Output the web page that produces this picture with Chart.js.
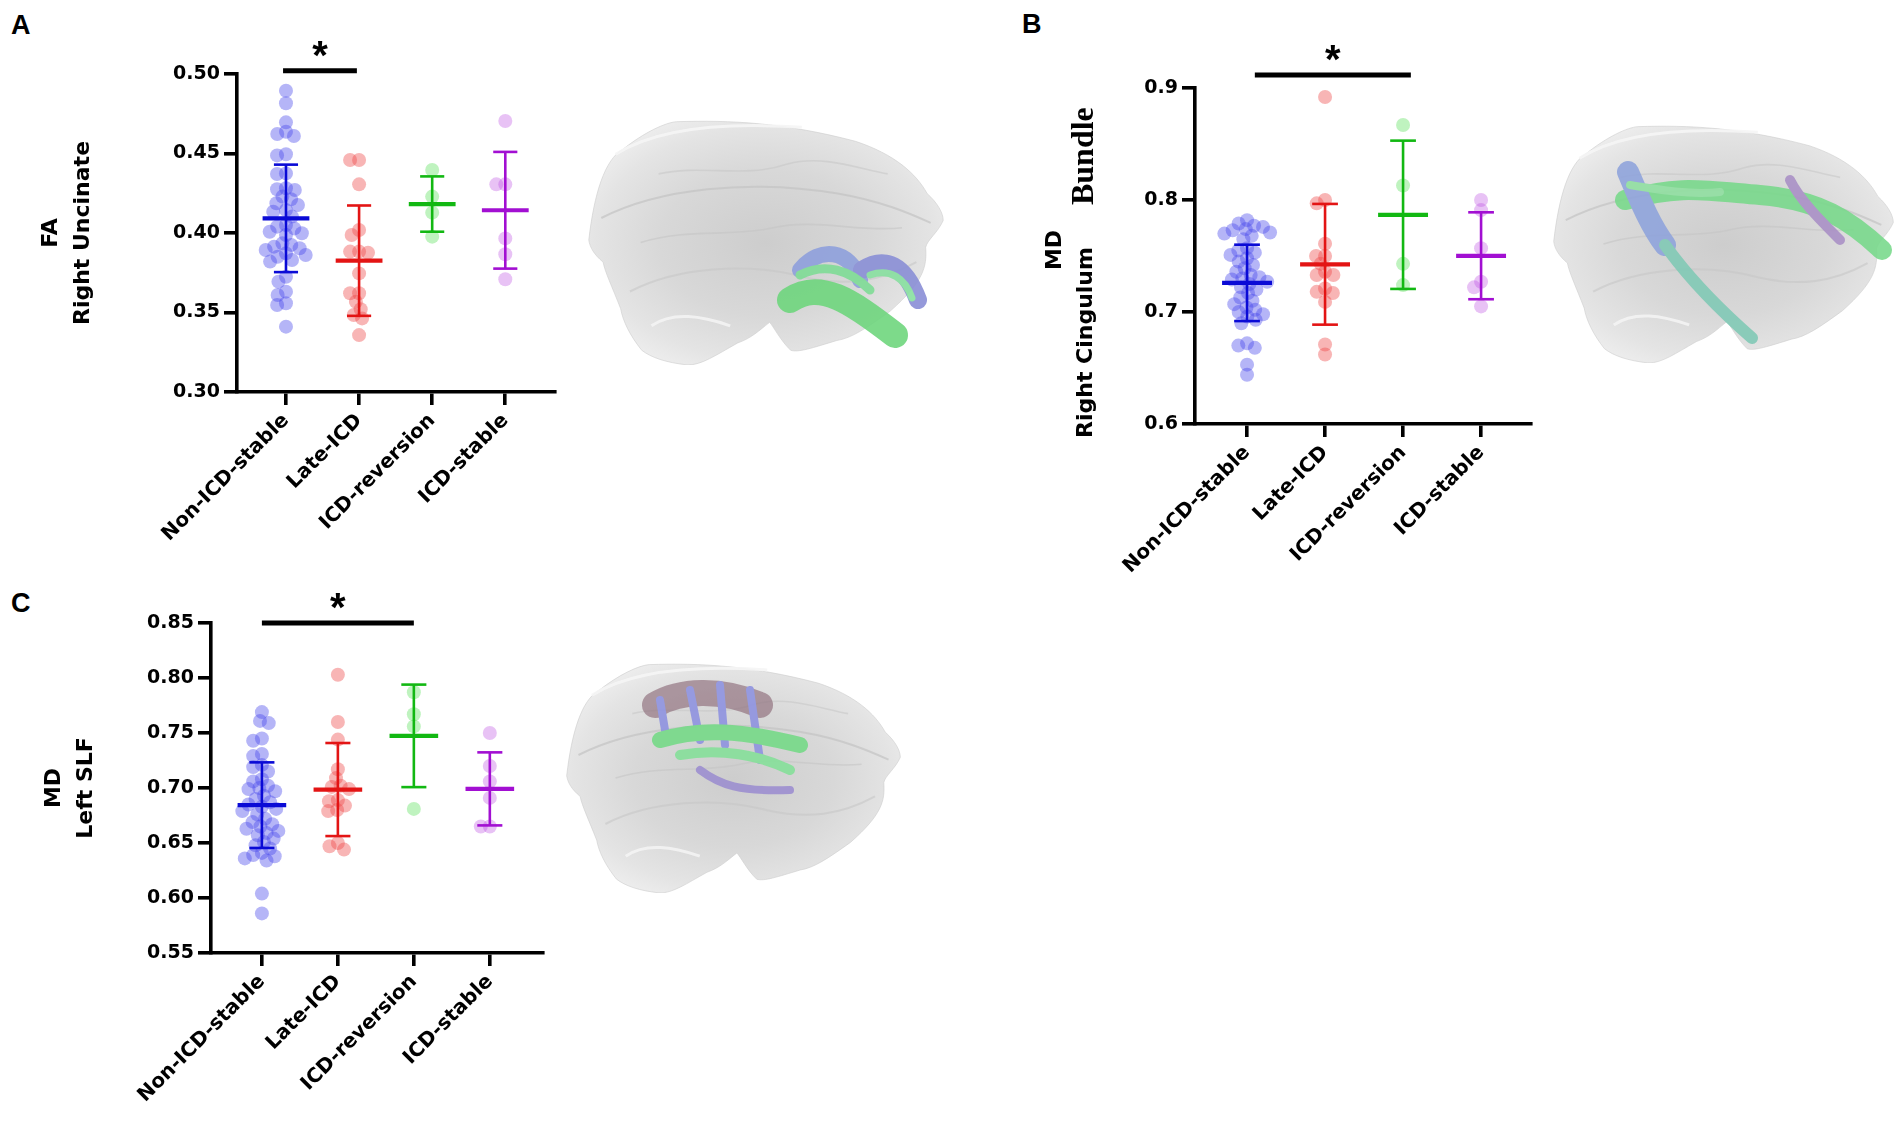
<!DOCTYPE html>
<html>
<head>
<meta charset="utf-8">
<script src="https://cdn.jsdelivr.net/npm/chart.js@4.4.1/dist/chart.umd.min.js"></script>
<style>
html,body{margin:0;padding:0;background:#fff;}
body{width:1902px;height:1124px;position:relative;overflow:hidden;font-family:"DejaVu Sans",sans-serif;}
.panel{position:absolute;}
.letter{position:absolute;font-weight:bold;font-size:27px;line-height:1;color:#000;font-family:"Liberation Sans",Arial,sans-serif;}
#deco{position:absolute;left:0;top:0;}
</style>
</head>
<body>
<svg id="deco" width="1902" height="1124" viewBox="0 0 1902 1124">
  <defs>
    <radialGradient id="bg" cx="50%" cy="50%" r="60%">
      <stop offset="0%" stop-color="#cdcdcd"/>
      <stop offset="50%" stop-color="#d8d8d8"/>
      <stop offset="80%" stop-color="#e4e4e4"/>
      <stop offset="100%" stop-color="#f0f0f0"/>
    </radialGradient>
    <symbol id="brain" viewBox="0 0 100 100" preserveAspectRatio="none">
      <path d="M0.5,49 C2,30 5,16 10,12 C16,5 22,1 25,0.7 C40,0 55,1 75,8.7 C86,14 92,22 95,30 C98,34 99.5,38 99.5,41 C98,46 95,49 94.6,52 C95,60 94,66 84.7,78 C78,85 74,89 69.8,90 C63,93 59,95 56.9,94 C54,90 52,84 51,82.6 C48,86 46,89 42.1,91 C36,96 32,100 28.2,100 C22,99 18,97 15.3,94 C12,88 10,82 9.4,77 C7,68 5,62 4.5,58 C2,55 0.8,52 0.5,49 Z"
        fill="url(#bg)" stroke="#cccccc" stroke-width="0.6" vector-effect="non-scaling-stroke"/>
      <path d="M4,40 C20,28 45,24 70,30 C82,33 90,38 96,42" fill="none" stroke="#c4c4c4" stroke-width="2" opacity="0.7" vector-effect="non-scaling-stroke"/>
      <path d="M12,70 C25,60 45,58 60,64 C72,68 82,66 92,58" fill="none" stroke="#c8c8c8" stroke-width="2" opacity="0.6" vector-effect="non-scaling-stroke"/>
      <path d="M15,50 C28,44 40,48 52,44 C64,40 76,46 88,44" fill="none" stroke="#c6c6c6" stroke-width="1.6" opacity="0.6" vector-effect="non-scaling-stroke"/>
      <path d="M20,22 C32,18 44,24 56,18 C66,14 76,20 84,22" fill="none" stroke="#c9c9c9" stroke-width="1.6" opacity="0.6" vector-effect="non-scaling-stroke"/>
      <path d="M18,84 C24,78 32,80 40,84" fill="none" stroke="#f4f4f4" stroke-width="3" opacity="0.9" vector-effect="non-scaling-stroke"/>
      <path d="M8,14 C20,3 40,1 60,3" fill="none" stroke="#f6f6f6" stroke-width="3" opacity="0.9" vector-effect="non-scaling-stroke"/>
    </symbol>
  </defs>
  <!-- brain A -->
  <use href="#brain" x="587" y="120" width="358" height="245"/>
  <g opacity="0.9" fill="none" stroke-linecap="round">
    <path d="M790,300 C820,280 850,300 895,335" stroke="#6fd67e" stroke-width="26"/>
    <path d="M800,270 C820,245 850,250 860,280" stroke="#8fa0dc" stroke-width="16"/>
    <path d="M862,270 C885,255 905,265 918,300" stroke="#8a8fd6" stroke-width="18"/>
    <path d="M800,275 C825,262 850,270 870,290" stroke="#7fdc96" stroke-width="9"/>
    <path d="M870,275 C890,268 905,278 912,298" stroke="#88e0a0" stroke-width="7"/>
  </g>
  <!-- brain B -->
  <use href="#brain" x="1552" y="125" width="343" height="238"/>
  <g opacity="0.88" fill="none" stroke-linecap="round">
    <path d="M1625,200 C1680,185 1700,190 1760,195 C1820,200 1850,220 1882,250" stroke="#77d98a" stroke-width="20"/>
    <path d="M1628,172 C1640,200 1650,225 1665,245" stroke="#8ea3dc" stroke-width="22"/>
    <path d="M1665,245 C1690,280 1720,310 1752,338" stroke="#7fc9b5" stroke-width="12"/>
    <path d="M1790,180 C1800,200 1820,220 1840,240" stroke="#a98fc6" stroke-width="10"/>
    <path d="M1630,185 C1660,190 1690,195 1720,192" stroke="#8fe0a0" stroke-width="8"/>
  </g>
  <!-- brain C -->
  <use href="#brain" x="565" y="663" width="337" height="230"/>
  <g opacity="0.9" fill="none" stroke-linecap="round">
    <path d="M655,705 C680,690 720,688 760,705" stroke="#8c6a78" stroke-width="26" opacity="0.7"/>
    <path d="M660,700 L665,730 M690,690 L700,740 M720,685 L725,745 M750,690 L760,760" stroke="#8f93e0" stroke-width="8"/>
    <path d="M660,740 C700,728 740,730 800,745" stroke="#76da88" stroke-width="16"/>
    <path d="M680,755 C720,748 760,755 790,770" stroke="#86e09a" stroke-width="10"/>
    <path d="M700,770 C720,785 740,792 790,790" stroke="#9d8fd0" stroke-width="8"/>
  </g>
</svg>

<div class="letter" style="left:11px;top:12px">A</div>
<div class="letter" style="left:1022px;top:11px">B</div>
<div class="letter" style="left:11px;top:590px">C</div>

<div class="panel" style="left:0px;top:0px;"><canvas id="cA" width="600" height="560" style="width:600px;height:560px"></canvas></div>
<div class="panel" style="left:1000px;top:0px;"><canvas id="cB" width="560" height="620" style="width:560px;height:620px"></canvas></div>
<div class="panel" style="left:0px;top:560px;"><canvas id="cC" width="600" height="564" style="width:600px;height:564px"></canvas></div>

<script>
// ---------------- DATA ----------------
const categories = ['Non-ICD-stable', 'Late-ICD', 'ICD-reversion', 'ICD-stable'];

// Panel A: FA, Right Uncinate
const faNonIcdStable = [0.4895,0.4816,0.4696,0.4637,0.4623,0.4610,0.4495,0.4488,0.4375,0.4371,0.4281,0.4275,0.4270,0.4229,0.4212,0.4187,0.4176,0.4145,0.4134,0.4103,0.4050,0.4040,0.4029,0.4008,0.3998,0.3987,0.3935,0.3925,0.3914,0.3904,0.3893,0.3872,0.3862,0.3851,0.3830,0.3820,0.3725,0.3694,0.3631,0.3610,0.3558,0.3547,0.3411];
const faLateIcd = [0.4459,0.4459,0.4306,0.4019,0.3987,0.3883,0.3876,0.3883,0.3746,0.3621,0.3621,0.3568,0.3520,0.3484,0.3463,0.3358];
const faIcdReversion = [0.4396,0.4229,0.4128,0.3977];
const faIcdStable = [0.4704,0.4306,0.4306,0.3966,0.3866,0.3709];
const faMeans = [0.4092,0.3826,0.4182,0.4143];
const faSDs = [0.0338,0.0347,0.0174,0.0367];
const faTicks = [0.30,0.35,0.40,0.45,0.50];

// Panel B: MD, Right Cingulum Bundle
const mdCingNonIcdStable = [0.782,0.779,0.777,0.776,0.774,0.773,0.771,0.770,0.768,0.765,0.757,0.755,0.753,0.751,0.748,0.745,0.742,0.739,0.736,0.733,0.731,0.730,0.729,0.727,0.725,0.722,0.720,0.717,0.713,0.710,0.707,0.704,0.702,0.700,0.698,0.696,0.693,0.690,0.672,0.670,0.668,0.653,0.644];
const mdCingLateIcd = [0.892,0.800,0.797,0.761,0.750,0.750,0.743,0.736,0.733,0.733,0.721,0.718,0.717,0.709,0.671,0.662];
const mdCingIcdReversion = [0.867,0.813,0.743,0.724];
const mdCingIcdStable = [0.800,0.791,0.757,0.727,0.722,0.705];
const mdCingMeans = [0.7260,0.7426,0.7868,0.7502];
const mdCingSDs = [0.0341,0.0539,0.0662,0.0388];
const mdCingTicks = [0.6,0.7,0.8,0.9];

// Panel C: MD, Left SLF
const mdSlfNonIcdStable = [0.769,0.761,0.759,0.745,0.743,0.731,0.729,0.721,0.719,0.715,0.708,0.706,0.702,0.700,0.699,0.697,0.693,0.690,0.687,0.685,0.683,0.681,0.679,0.676,0.672,0.669,0.667,0.665,0.663,0.661,0.659,0.657,0.654,0.651,0.648,0.645,0.641,0.639,0.638,0.636,0.634,0.604,0.586];
const mdSlfLateIcd = [0.803,0.760,0.744,0.717,0.709,0.702,0.701,0.699,0.689,0.688,0.684,0.680,0.679,0.650,0.647,0.644];
const mdSlfIcdReversion = [0.787,0.767,0.756,0.681];
const mdSlfIcdStable = [0.750,0.720,0.706,0.691,0.665,0.665];
const mdSlfMeans = [0.6844,0.6986,0.7474,0.6992];
const mdSlfSDs = [0.0389,0.0423,0.0466,0.0332];
const mdSlfTicks = [0.55,0.60,0.65,0.70,0.75,0.80,0.85];

// significance brackets: [from (category units), to (category units), yValue]
const faSig = [-0.04, 0.97, 0.502];
const mdCingSig = [0.1, 2.1, 0.9116];
const mdSlfSig = [0, 2, 0.85];

// ---------------- STYLE ----------------
const pointColors = ['rgba(70,70,235,0.40)','rgba(238,70,70,0.40)','rgba(60,220,60,0.33)','rgba(185,70,225,0.33)'];
const lineColors = ['#0a0ad6','#e31414','#12b812','#a20fd2'];
const SANS = '"DejaVu Sans", "Liberation Sans", sans-serif';

// deterministic beeswarm layout (pixel space)
function swarmOffsets(values, pxPerY, pxPerCat, minDist) {
  const order = values.map((v, i) => i).sort((a, b) => values[b] - values[a]);
  const placed = [];
  const out = new Array(values.length).fill(0);
  for (const i of order) {
    const yy = values[i] * pxPerY;
    const cands = [0];
    for (const p of placed) {
      const dy = Math.abs(p.y - yy);
      if (dy < minDist) {
        const dx = Math.sqrt(minDist * minDist - dy * dy);
        cands.push(p.x + dx, p.x - dx);
      }
    }
    cands.sort((a, b) => (Math.abs(a) - Math.abs(b)) || (a - b));
    let chosen = 0;
    for (const c of cands) {
      if (placed.every(p => (p.x - c) ** 2 + (p.y - yy) ** 2 >= minDist * minDist - 1e-6)) { chosen = c; break; }
    }
    placed.push({x: chosen, y: yy});
    out[i] = chosen / pxPerCat;
  }
  return out;
}

const statsPlugin = {
  id: 'stats',
  afterDatasetsDraw(chart) {
    const o = chart.options.plugins.stats;
    if (!o) return;
    const {ctx} = chart;
    const x = chart.scales.x, y = chart.scales.y;
    const seg = (x1, y1, x2, y2) => { ctx.beginPath(); ctx.moveTo(x1, y1); ctx.lineTo(x2, y2); ctx.stroke(); };
    ctx.save();
    ctx.lineCap = 'butt';
    o.means.forEach((m, i) => {
      const sd = o.sds[i];
      const cx = x.getPixelForValue(i);
      const hw = x.getPixelForValue(i + 0.32) - cx;
      const cw = x.getPixelForValue(i + 0.165) - cx;
      const ym = y.getPixelForValue(m), yt = y.getPixelForValue(m + sd), yb = y.getPixelForValue(m - sd);
      ctx.strokeStyle = lineColors[i];
      ctx.lineWidth = 2.6;
      seg(cx, yt, cx, yb);
      seg(cx - cw, yt, cx + cw, yt);
      seg(cx - cw, yb, cx + cw, yb);
      ctx.lineWidth = 4.2;
      seg(cx - hw, ym, cx + hw, ym);
    });
    const [g1, g2, sv] = o.sig;
    const xa = x.getPixelForValue(g1), xb = x.getPixelForValue(g2), ys = y.getPixelForValue(sv);
    ctx.strokeStyle = '#000';
    ctx.lineWidth = 5;
    seg(xa, ys, xb, ys);
    ctx.fillStyle = '#000';
    ctx.font = 'bold 40px "Liberation Sans", Arial, sans-serif';
    ctx.textAlign = 'center';
    ctx.textBaseline = 'alphabetic';
    const mt = ctx.measureText('*');
    const cyA = ys - 22;
    ctx.fillText('*', (xa + xb) / 2, cyA + (mt.actualBoundingBoxAscent - mt.actualBoundingBoxDescent) / 2);
    ctx.restore();
  },
  afterDraw(chart) {
    const t = chart.options.plugins.stats && chart.options.plugins.stats.customTitle;
    if (!t) return;
    const {ctx, chartArea} = chart;
    const cy = (chartArea.top + chartArea.bottom) / 2;
    ctx.save();
    ctx.fillStyle = '#000';
    ctx.save();
    ctx.translate(t.x1, cy - 6);
    ctx.rotate(-Math.PI / 2);
    ctx.font = 'bold 22px ' + SANS;
    ctx.textAlign = 'center';
    ctx.textBaseline = 'middle';
    ctx.fillText(t.line1, 0, 0);
    ctx.restore();
    ctx.save();
    ctx.translate(t.x2, chartArea.bottom + 14);
    ctx.rotate(-Math.PI / 2);
    ctx.textAlign = 'left';
    ctx.textBaseline = 'alphabetic';
    ctx.font = 'bold 22px ' + SANS;
    ctx.fillText(t.line2a, 0, 8.5);
    const w1 = ctx.measureText(t.line2a).width;
    ctx.font = 'bold 32px "Liberation Serif", "Times New Roman", serif';
    ctx.fillText(t.line2b, w1 + 42, 9.5);
    ctx.restore();
    ctx.restore();
  }
};

function makePanel(id, p) {
  const W = p.w, H = p.h, A = p.area;
  const pxPerY = (A.b - A.t) / (p.yMax - p.yMin);
  const pxPerCat = (A.r - A.l) / (p.xMax - p.xMin);
  const datasets = p.groups.map((vals, gi) => {
    const offs = swarmOffsets(vals, pxPerY, pxPerCat, 9);
    return {
      label: categories[gi],
      data: vals.map((v, k) => ({x: gi + offs[k], y: v})),
      backgroundColor: pointColors[gi],
      borderWidth: 0,
      pointRadius: 7,
      pointHoverRadius: 7
    };
  });
  const padBottom = 0;
  return new Chart(document.getElementById(id), {
    type: 'scatter',
    data: {datasets},
    plugins: [statsPlugin],
    options: {
      responsive: false,
      animation: false,
      events: [],
      layout: {padding: {left: 0, top: A.t, right: W - A.r, bottom: padBottom}},
      plugins: {
        legend: {display: false},
        tooltip: {enabled: false},
        stats: {means: p.means, sds: p.sds, sig: p.sig, customTitle: p.customTitle || null}
      },
      scales: {
        x: {
          type: 'linear',
          min: p.xMin, max: p.xMax,
          afterBuildTicks: s => { s.ticks = categories.map((c, i) => ({value: i})); },
          afterFit: s => { s.height = H - A.b - padBottom; },
          grid: {drawOnChartArea: false, drawTicks: true, tickLength: 13, color: '#000', lineWidth: 3.6},
          border: {display: true, color: '#000', width: 3.6},
          ticks: {
            autoSkip: false, maxRotation: 45, minRotation: 45, padding: 4,
            color: '#000', font: {family: SANS, size: 20, weight: 'bold'},
            callback: v => categories[Math.round(v)] ?? ''
          }
        },
        y: {
          type: 'linear',
          min: p.yMin, max: p.yMax,
          afterBuildTicks: s => { s.ticks = p.ticks.map(v => ({value: v})); },
          afterFit: s => { s.width = A.l; },
          grid: {drawOnChartArea: false, drawTicks: true, tickLength: 13, color: '#000', lineWidth: 3.6},
          border: {display: true, color: '#000', width: 3.6},
          ticks: {
            padding: 4, color: '#000', font: {family: SANS, size: 19, weight: 'bold'},
            callback: v => Number(v).toFixed(p.decimals)
          },
          title: p.title ? {
            display: true, text: p.title, color: '#000',
            font: {family: SANS, size: 22, weight: 'bold', lineHeight: 32 / 22},
            padding: {top: p.titlePad, bottom: 0}
          } : {display: false}
        }
      }
    }
  });
}

makePanel('cA', {
  w: 600, h: 560, area: {l: 237, r: 555, t: 74, b: 392},
  xMin: -0.67, xMax: 3.68, yMin: 0.30, yMax: 0.50, ticks: faTicks, decimals: 2,
  groups: [faNonIcdStable, faLateIcd, faIcdReversion, faIcdStable],
  means: faMeans, sds: faSDs, sig: faSig,
  title: ['FA', 'Right Uncinate'], titlePad: 35
});

makePanel('cB', {
  w: 560, h: 620, area: {l: 195, r: 531, t: 88, b: 424},
  xMin: -0.667, xMax: 3.64, yMin: 0.6, yMax: 0.9, ticks: mdCingTicks, decimals: 1,
  groups: [mdCingNonIcdStable, mdCingLateIcd, mdCingIcdReversion, mdCingIcdStable],
  means: mdCingMeans, sds: mdCingSDs, sig: mdCingSig,
  title: null,
  customTitle: {x1: 55, x2: 83, line1: 'MD', line2a: 'Right Cingulum', line2b: 'Bundle'}
});

makePanel('cC', {
  w: 600, h: 564, area: {l: 211, r: 543, t: 63, b: 393},
  xMin: -0.67, xMax: 3.70, yMin: 0.55, yMax: 0.85, ticks: mdSlfTicks, decimals: 2,
  groups: [mdSlfNonIcdStable, mdSlfLateIcd, mdSlfIcdReversion, mdSlfIcdStable],
  means: mdSlfMeans, sds: mdSlfSDs, sig: mdSlfSig,
  title: ['MD', 'Left SLF'], titlePad: 38.5
});
</script>
</body>
</html>
